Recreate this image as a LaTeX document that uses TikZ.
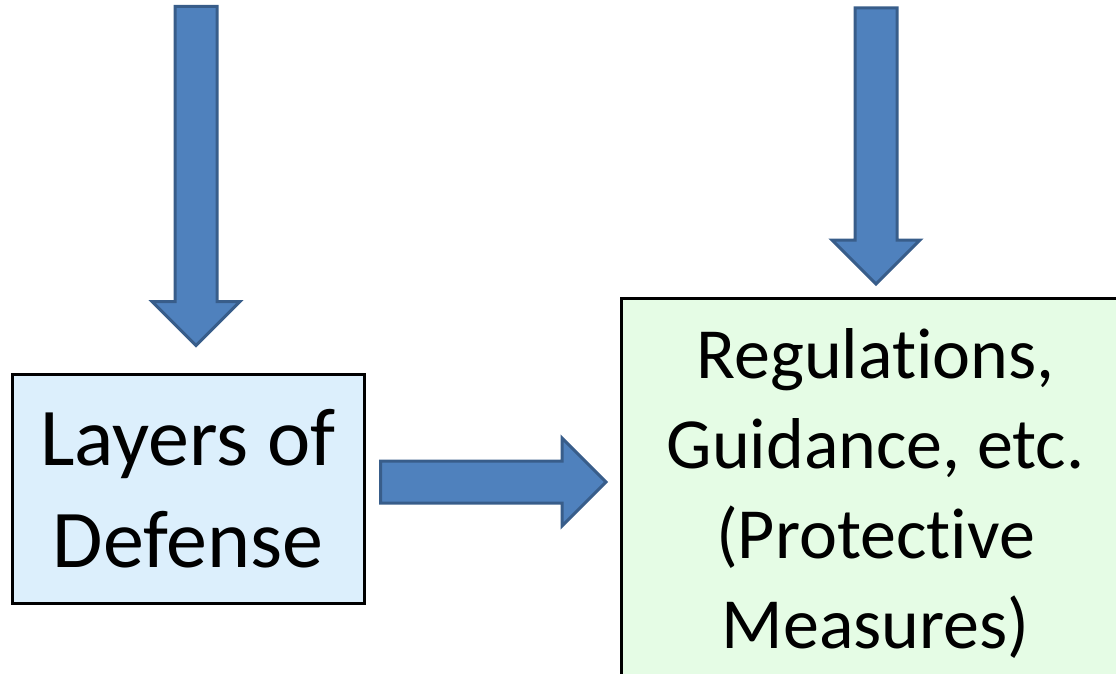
\documentclass[tikz,border=0pt]{standalone}
\usepackage{fontspec}
\setmainfont{Carlito}[Ligatures=NoCommon]
\usepackage{xcolor}
\usetikzlibrary{calc}

\definecolor{arrowblue}{HTML}{4F81BD}
\definecolor{arrowedge}{HTML}{385D8A}
\definecolor{layerblue}{HTML}{DCEFFC}
\definecolor{rulegreen}{HTML}{E5FCE5}

\tikzset{
  box/.style={draw=black, line width=3pt, inner sep=0pt, align=center},
  fatarrow/.style={fill=arrowblue, draw=arrowedge, line width=3pt, line join=miter},
}

% block arrow from #1 (tail) to #2 (tip)
\newcommand{\fatarrow}[2]{%
  \draw[fatarrow] let \p1=(#1), \p2=(#2),
    \n1={atan2(\y2-\y1,\x2-\x1)}, \n2={veclen(\x2-\x1,\y2-\y1)} in
    [shift={(\p1)}, rotate=\n1]
    (0pt,21pt) -- (\n2-44pt,21pt) -- (\n2-44pt,44pt) -- (\n2+0pt,0pt)
    -- (\n2-44pt,-44pt) -- (\n2-44pt,-21pt) -- (0pt,-21pt) -- cycle;}

\begin{document}
\begin{tikzpicture}[x=1pt, y=-1pt]
  \useasboundingbox (0,0) rectangle (1116,674);

  \node[box, fill=layerblue, minimum width=352pt, minimum height=229pt,
        font=\fontsize{82}{102}\selectfont] (layers) at (188,488.5) {Layers of\\Defense};
  \node[box, fill=rulegreen, anchor=north west, minimum width=508pt, minimum height=390pt,
        font=\fontsize{72}{90}\selectfont] (rules) at (620,297)
        {Regulations,\\Guidance, etc.\\(Protective\\Measures)};

  % arrow ends
  \coordinate (layers top) at ($(layers.north)+(8,-366)$);
  \coordinate (layers in) at ($(layers.north)+(8,-27)$);
  \coordinate (layers out) at ($(layers.east)+(15,-6.5)$);
  \coordinate (rules in) at ($(rules.north west)+(-14,185)$);
  \coordinate (rules top) at ($(rules.north west)+(256,-289)$);
  \coordinate (rules down) at ($(rules.north west)+(256,-13)$);

  \fatarrow{layers top}{layers in}
  \fatarrow{layers out}{rules in}
  \fatarrow{rules top}{rules down}
\end{tikzpicture}
\end{document}
